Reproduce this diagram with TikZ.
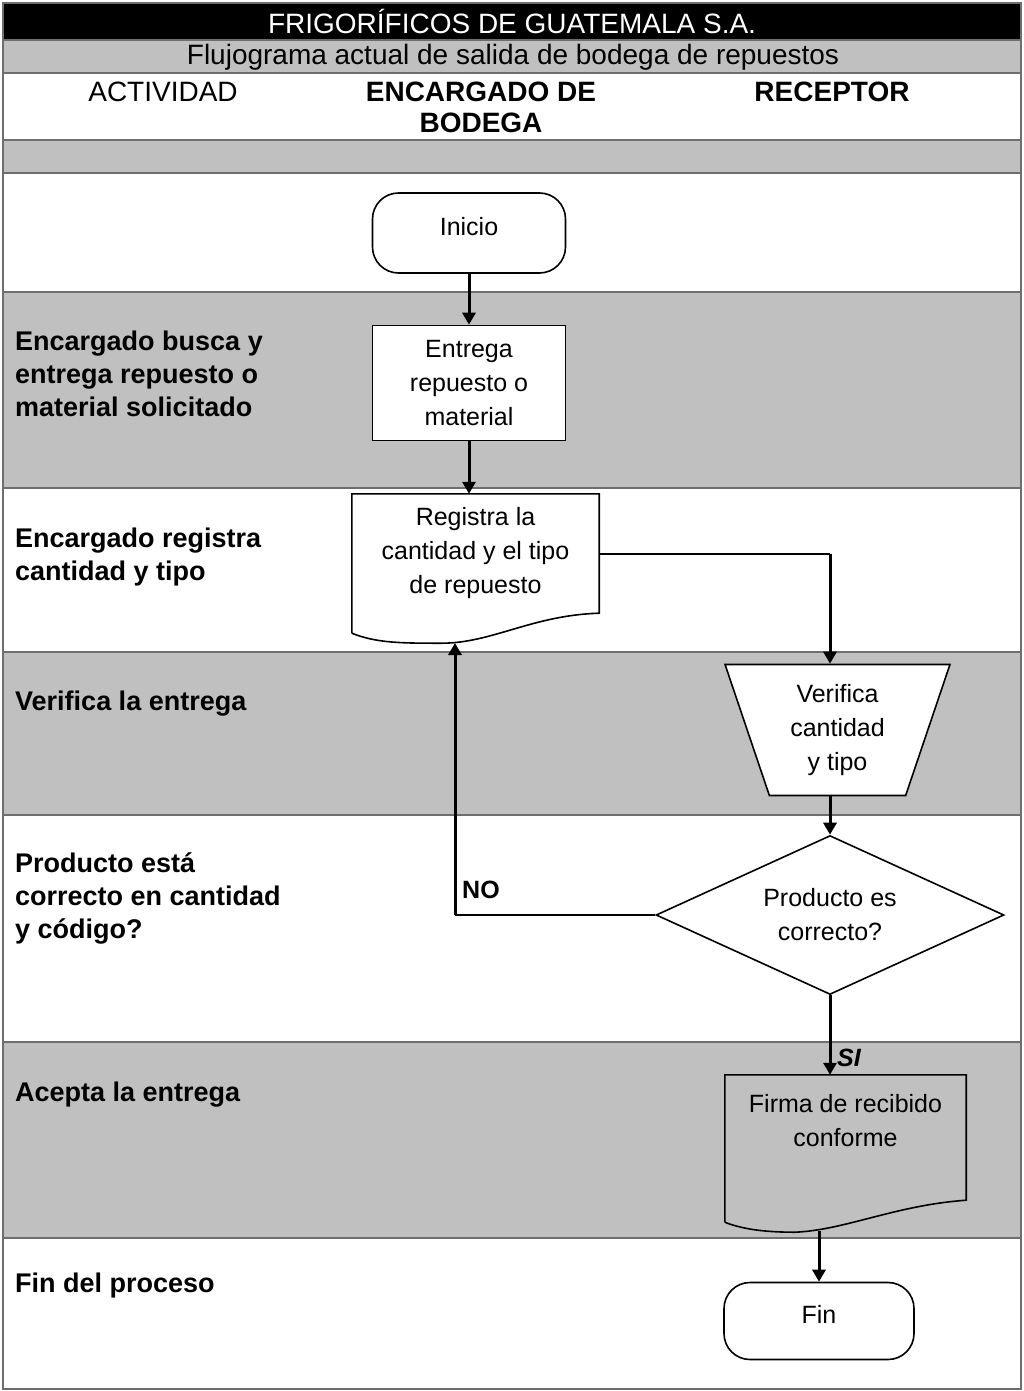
\documentclass[tikz,border=0pt]{standalone}
\usepackage{fontspec}
\setmainfont{Liberation Sans}
\usepackage{tikz}
\usetikzlibrary{shapes,arrows.meta,positioning,calc}

\definecolor{rowgray}{RGB}{192,192,192}
\definecolor{rulegray}{RGB}{110,110,110}

\begin{document}
\begin{tikzpicture}[x=1pt, y=-1pt,
    every node/.style={font=\fontsize{25}{34}\selectfont, align=center, inner sep=0pt},
    actlbl/.style={font=\fontsize{27}{33}\selectfont\bfseries, align=left, anchor=north west},
    hdr/.style={font=\fontsize{28}{31}\selectfont},
    outline/.style={draw=black, line width=1.6pt, fill=white},
    terminal/.style={outline, rounded corners=26pt, text depth=14pt},
    flow/.style={line width=3pt, -{Triangle[length=12pt,width=13pt]}},
    rowline/.style={draw=rulegray, line width=2pt}]
    \useasboundingbox (0,0) rectangle (1024,1391);
    % filas del formato
    \fill[black] (3,3) rectangle (1021,40);
    \fill[rowgray] (3,40) rectangle (1021,73);
    \fill[rowgray] (3,140) rectangle (1021,173);
    \fill[rowgray] (3,292) rectangle (1021,488);
    \fill[rowgray] (3,652) rectangle (1021,815);
    \fill[rowgray] (3,1042) rectangle (1021,1238);
    \foreach \yy in {40,73,140,173,292,488,652,815,1042,1238}
        \draw[rowline] (3,\yy) -- (1021,\yy);
    \draw[rowline] (3,3) rectangle (1021,1389);

    % encabezados
    \node[hdr, text=white] (titulo) at (512,21) {FRIGORÍFICOS DE GUATEMALA S.A.};
    \node[hdr] (subtitulo) at (513,57) {Flujograma actual de salida de bodega de repuestos};
    \node[hdr] (hact) at (163,92) {ACTIVIDAD};
    \node[hdr, font=\fontsize{28}{31}\selectfont\bfseries] (henc) at (481,107) {ENCARGADO DE\\BODEGA};
    \node[hdr, font=\fontsize{28}{31}\selectfont\bfseries] (hrec) at (832,92) {RECEPTOR};

    % actividades
    \node[actlbl] (act1) at (15,331) {Encargado busca y\\entrega repuesto o\\material solicitado};
    \node[actlbl] (act2) at (15,528) {Encargado registra\\cantidad y tipo};
    \node[actlbl] (act3) at (15,691) {Verifica la entrega};
    \node[actlbl] (act4) at (15,852) {Producto está\\correcto en cantidad\\y código?};
    \node[actlbl] (act5) at (15,1082) {Acepta la entrega};
    \node[actlbl] (act6) at (15,1273) {Fin del proceso};

    % simbolos del flujo
    \node[terminal, minimum width=193pt, minimum height=80pt] (inicio) at (469,233) {Inicio};
    \node[outline, minimum width=193pt, minimum height=115pt] (entrega) at (469,383) {Entrega\\repuesto o\\material};
    \node[minimum width=247pt, minimum height=119pt] (registra) at (475.5,553.5) {Registra la\\cantidad y el tipo\\de repuesto};
    \draw[line width=1.6pt] ([yshift=-20pt]registra.south west) -- (registra.north west) -- (registra.north east) -- (registra.south east)
        .. controls ($(registra.south east)+(-67,2)$) and ($(registra.south west)+(140,30)$) .. ($(registra.south west)+(90,30)$)
        .. controls ($(registra.south west)+(50,30)$) and ($(registra.south west)+(25,30)$) .. ([yshift=-20pt]registra.south west);
    \node[outline, trapezium, shape border rotate=180, trapezium left angle=71.4, trapezium right angle=71.4,
        trapezium stretches=true, minimum width=225pt, minimum height=131pt] (verifica) at (837.5,730) {Verifica\\cantidad\\y tipo};
    \node[outline, diamond, aspect=2.2, minimum width=348pt, minimum height=159pt] (decision) at (830,915) {Producto es\\correcto?};
    \node[minimum width=241pt, minimum height=125pt] (firma) at (845.5,1137.5) {Firma de recibido\\conforme\\\mbox{}};
    \draw[line width=1.6pt] ([yshift=-22pt]firma.south west) -- (firma.north west) -- (firma.north east) -- (firma.south east)
        .. controls ($(firma.south east)+(-71,5)$) and ($(firma.south west)+(120,30)$) .. ($(firma.south west)+(70,32)$)
        .. controls ($(firma.south west)+(45,32)$) and ($(firma.south west)+(20,30)$) .. ([yshift=-22pt]firma.south west);
    \node[terminal, minimum width=190pt, minimum height=77pt] (fin) at (819,1321) {Fin};

    \coordinate (regbase) at (455,643);
    \coordinate (firmabase) at (819,1231);

    % conectores
    \draw[flow] (inicio) -- (entrega);
    \draw[flow] (entrega.south) -- (registra.north -| entrega.south);
    \draw[line width=2pt] (registra.east) -- (registra.east -| decision.north);
    \draw[flow] (registra.east -| decision.north) -- (verifica.north -| decision.north);
    \draw[flow] (verifica.south -| decision.north) -- (decision.north);
    \draw[line width=2pt] (decision.west) -- (decision.west -| regbase);
    \draw[flow] (decision.west -| regbase) -- (regbase);
    \node[font=\fontsize{25}{30}\selectfont\bfseries, anchor=west] (no) at (462,890) {NO};
    \draw[flow] (decision.south) -- (firma.north -| decision.south);
    \node[font=\fontsize{25}{30}\selectfont\bfseries\itshape, anchor=west] (si) at (837,1058) {SI};
    \draw[flow] (firmabase) -- (fin.north);
\end{tikzpicture}
\end{document}
